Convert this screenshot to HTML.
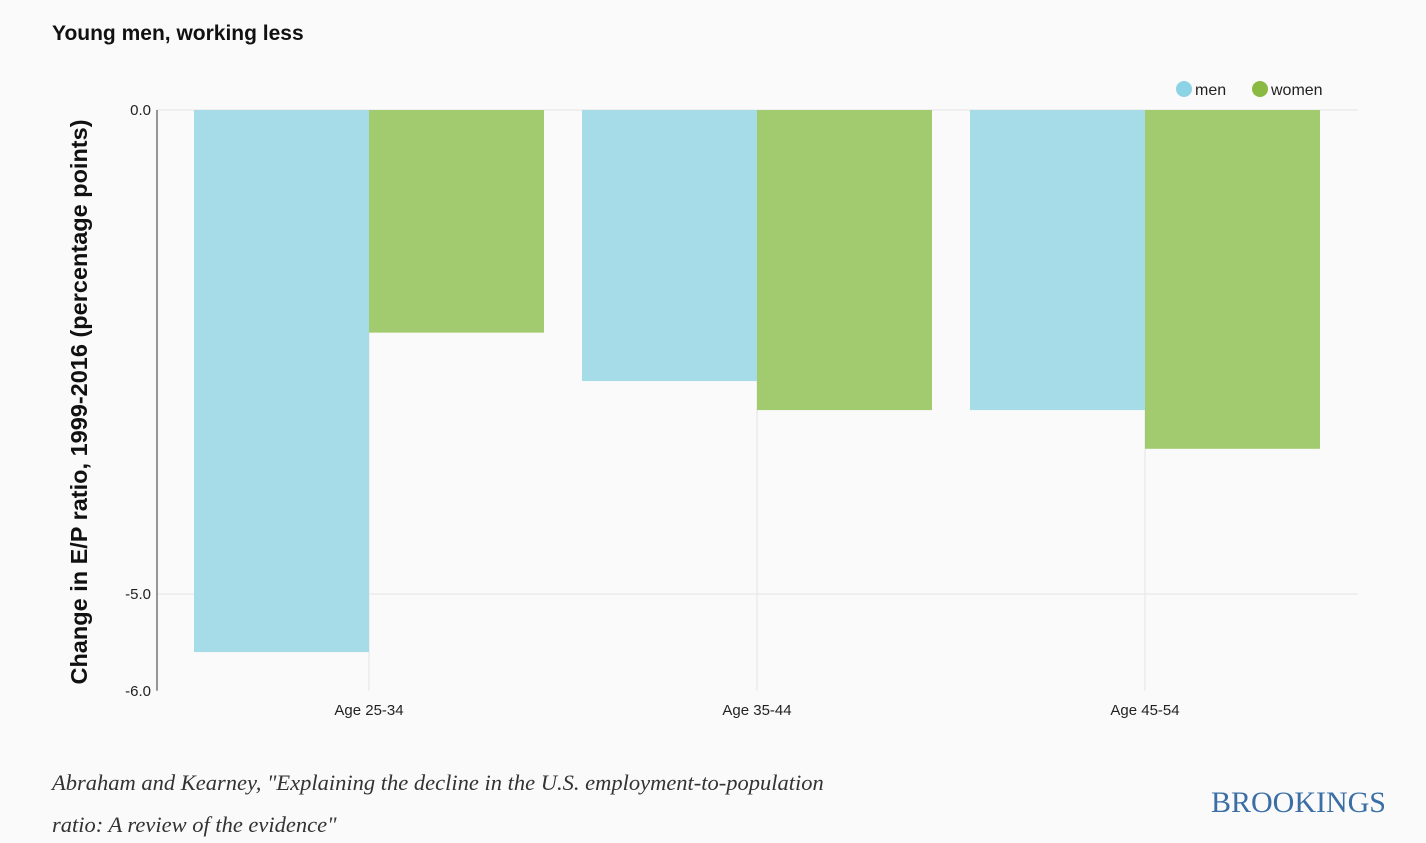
<!DOCTYPE html>
<html><head><meta charset="utf-8"><style>
body{margin:0;background:#fafafa;width:1426px;height:838px;overflow:hidden;font-family:"Liberation Sans",sans-serif}
</style></head><body>
<svg id="chart" width="1426" height="838" xmlns="http://www.w3.org/2000/svg">
<rect width="1426" height="838" fill="#fafafa"/>
<text x="52" y="40" font-family="Liberation Sans Narrow, Liberation Sans, sans-serif" font-weight="bold" font-size="21" fill="#111">Young men, working less</text>
<g>
<circle cx="1184" cy="89" r="8" fill="#8dd3e6"/>
<text x="1195" y="95" font-size="16" fill="#222">men</text>
<circle cx="1260" cy="89" r="8" fill="#8aba41"/>
<text x="1271" y="95" font-size="16" fill="#222">women</text>
</g>
<g id="grid"></g><g id="bars"></g><g id="axes"></g>
<text transform="translate(87,402) rotate(-90)" text-anchor="middle" font-size="23.5" font-weight="bold" fill="#111">Change in E/P ratio, 1999-2016 (percentage points)</text>
<text x="52" y="790" font-family="Liberation Serif, serif" font-style="italic" font-size="22.5" fill="#333">Abraham and Kearney, "Explaining the decline in the U.S. employment-to-population</text>
<text x="52" y="832" font-family="Liberation Serif, serif" font-style="italic" font-size="22.5" fill="#333">ratio: A review of the evidence"</text>
<text x="1386" y="812" text-anchor="end" font-family="Liberation Serif, serif" font-size="30" fill="#3a6ea5">BROOKINGS</text>
</svg>
<script>
const categories=["Age 25-34","Age 35-44","Age 45-54"];
const menValues=[-5.6,-2.8,-3.1];
const womenValues=[-2.3,-3.1,-3.5];
const yTicks=[0,-5,-6];
const yTickLabels=["0.0","-5.0","-6.0"];
const NS="http://www.w3.org/2000/svg";
const x0=157,x1=1358,y0=110,yPer=96.8;
const band=388;
function y(v){return y0-v*yPer;}
function cx(i){return 369+band*i;}
function mk(t,a,p){const e=document.createElementNS(NS,t);for(const k in a)e.setAttribute(k,a[k]);p.appendChild(e);return e;}
const grid=document.getElementById('grid'),bars=document.getElementById('bars'),axes=document.getElementById('axes');
yTicks.forEach((t,i)=>{
 if(t!==-6){const l=mk('line',{x1:x0,x2:x1,y1:y(t),y2:y(t),stroke:'#e4e4e4'},grid);
 
 }
 const tx=mk('text',{x:x0-6,y:y(t)+5,'text-anchor':'end','font-size':15,fill:'#222'},axes);
 tx.textContent=yTickLabels[i];
 
 
});
categories.forEach((c,i)=>{
 const gl=mk('line',{x1:cx(i),x2:cx(i),y1:y0,y2:y(-6),stroke:'#e4e4e4'},grid);
 
 
 const w=175;
 const m=mk('rect',{x:cx(i)-w,y:y0,width:w,height:y(menValues[i])-y0,fill:'#a6dce8'},bars);
 
 
 const f=mk('rect',{x:cx(i),y:y0,width:w,height:y(womenValues[i])-y0,fill:'#a2cb6f'},bars);
 
 
 const t=mk('text',{x:cx(i),y:y(-6)+24,'text-anchor':'middle','font-size':15,fill:'#222'},axes);
 t.textContent=c;
 
 
});
const ax=mk('line',{x1:x0,x2:x0,y1:y0,y2:y(-6),stroke:'#333'},axes);


</script>
</body></html>
